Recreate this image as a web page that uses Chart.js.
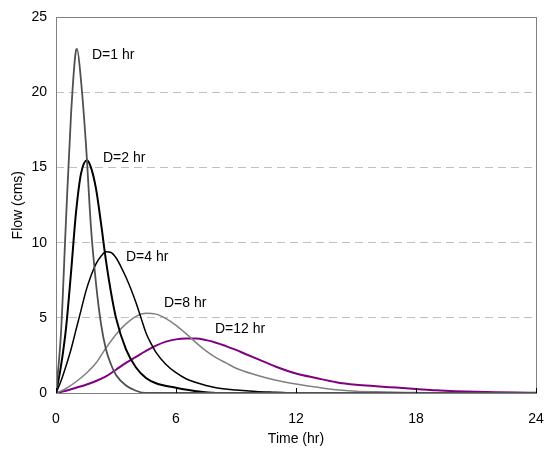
<!DOCTYPE html>
<html>
<head>
<meta charset="utf-8">
<script src="https://cdn.jsdelivr.net/npm/chart.js@4.4.0/dist/chart.umd.min.js"></script>
<style>
  html, body { margin: 0; padding: 0; background: #fff; }
  #wrap { width: 544px; height: 457px; }
</style>
</head>
<body>
<div id="wrap"><canvas id="myChart" width="544" height="457"></canvas></div>
<script>
// unit hydrographs for different storm durations
const seriesNames = ["D=1 hr", "D=2 hr", "D=4 hr", "D=8 hr", "D=12 hr"];

const time1 = [0, 0.25, 0.5, 0.75, 1.0, 1.05, 1.25, 1.5, 1.75, 2.0, 2.25, 2.5, 2.75, 3.0, 3.5, 4.0, 4.5, 24];
const flow1 = [0, 4, 11.5, 18.5, 22.8, 22.9, 20.8, 16.5, 11, 7.3, 4.6, 2.9, 1.9, 1.2, 0.5, 0.15, 0, 0];

const time2 = [0, 0.25, 0.5, 0.75, 1.0, 1.25, 1.55, 1.75, 2.0, 2.25, 2.5, 2.75, 3.0, 3.5, 4.0, 4.5, 5.0, 6.0, 7.0, 8.0, 24];
const flow2 = [0, 1.8, 4.3, 8.0, 12.0, 14.6, 15.5, 15.0, 13.6, 11.3, 8.8, 6.7, 5.0, 2.9, 1.7, 1.0, 0.65, 0.35, 0.12, 0, 0];

const time4 = [0, 0.25, 0.5, 0.75, 1.0, 1.25, 1.5, 1.75, 2.0, 2.25, 2.5, 2.75, 3.0, 3.25, 3.5, 3.75, 4.0, 4.25, 4.5, 4.75, 5.0, 5.5, 6.0, 6.5, 7.0, 7.5, 8.0, 9.0, 10.0, 11.0, 12.0, 24];
const flow4 = [0, 0.8, 1.8, 2.9, 4.2, 5.5, 6.8, 7.8, 8.6, 9.1, 9.4, 9.35, 9.0, 8.4, 7.7, 6.9, 6.0, 5.0, 4.0, 3.3, 2.7, 1.9, 1.35, 0.95, 0.7, 0.5, 0.35, 0.2, 0.1, 0.05, 0, 0];

const time8 = [0, 0.5, 1, 1.5, 2, 2.5, 3, 3.5, 4, 4.5, 5, 5.5, 6, 6.5, 7, 7.5, 8, 8.5, 9, 10, 11, 12, 13, 14, 15, 16, 17, 18, 19, 24];
const flow8 = [0, 0.3, 0.75, 1.3, 2.0, 3.0, 3.9, 4.6, 5.1, 5.3, 5.25, 4.95, 4.5, 3.95, 3.35, 2.8, 2.35, 2.0, 1.65, 1.2, 0.85, 0.6, 0.4, 0.22, 0.12, 0.08, 0.05, 0.03, 0, 0];

const time12 = [0, 0.5, 1, 1.5, 2, 2.5, 3, 3.5, 4, 4.5, 5, 5.5, 6, 6.5, 7, 7.5, 8, 8.5, 9, 9.5, 10, 11, 12, 13, 14, 15, 16, 17, 18, 19, 20, 21, 22, 23, 24];
const flow12 = [0, 0.15, 0.35, 0.55, 0.8, 1.1, 1.55, 2.0, 2.4, 2.8, 3.15, 3.42, 3.57, 3.62, 3.62, 3.52, 3.35, 3.12, 2.87, 2.58, 2.3, 1.75, 1.3, 1.0, 0.72, 0.55, 0.45, 0.36, 0.27, 0.18, 0.12, 0.08, 0.05, 0.03, 0.02];

// where each curve label sits (time, flow)
const labelTime = [1.8, 2.35, 3.5, 5.4, 7.95];
const labelFlow = [22.5, 15.6, 9.05, 6.0, 4.25];

const xTicks = [0, 6, 12, 18, 24];

const times = [time1, time2, time4, time8, time12];
const flows = [flow1, flow2, flow4, flow8, flow12];
const colors = ["#505050", "#000000", "#000000", "#808080", "#800080"];
const widths = [1.8, 2, 1.5, 1.5, 2];

function pts(t, q) {
  return t.map((v, i) => ({ x: v, y: q[i] }));
}

const FONT = "'Liberation Sans', Arial, sans-serif";

const curveLabels = {
  id: "curveLabels",
  afterDatasetsDraw(chart) {
    const ctx = chart.ctx;
    const xs = chart.scales.x, ys = chart.scales.y;
    ctx.save();
    ctx.font = "14px " + FONT;
    ctx.fillStyle = "#000";
    ctx.textBaseline = "middle";
    ctx.textAlign = "left";
    for (let i = 0; i < seriesNames.length; i++) {
      ctx.fillText(seriesNames[i], xs.getPixelForValue(labelTime[i]), ys.getPixelForValue(labelFlow[i]));
    }
    ctx.restore();
  }
};

const frame = {
  id: "frame",
  afterDraw(chart) {
    const ctx = chart.ctx;
    const a = chart.chartArea;
    const xs = chart.scales.x;
    ctx.save();
    ctx.strokeStyle = "#808080";
    ctx.lineWidth = 1;
    ctx.strokeRect(Math.round(a.left) + 0.5, Math.round(a.top) + 0.5, Math.round(a.right - a.left), Math.round(a.bottom - a.top));
    // x ticks point into the plot
    ctx.strokeStyle = "#000";
    xTicks.forEach(v => {
      const px = Math.round(xs.getPixelForValue(v)) + 0.5;
      ctx.beginPath();
      ctx.moveTo(px, a.bottom);
      ctx.lineTo(px, a.bottom - 5);
      ctx.stroke();
    });
    ctx.restore();
  }
};

const ctx = document.getElementById("myChart");
new Chart(ctx, {
  type: "line",
  data: {
    datasets: seriesNames.map((name, i) => ({
      label: name,
      data: pts(times[i], flows[i]),
      borderColor: colors[i],
      borderWidth: widths[i],
      pointRadius: 0,
      fill: false,
      cubicInterpolationMode: "monotone"
    }))
  },
  options: {
    responsive: false,
    animation: false,
    layout: { padding: { left: 0, right: 0, top: 17, bottom: 0 } },
    plugins: { legend: { display: false }, tooltip: { enabled: false } },
    scales: {
      x: {
        type: "linear",
        min: 0,
        max: 24,
        afterBuildTicks(scale) { scale.ticks = xTicks.map(v => ({ value: v })); },
        afterFit(scale) {
          scale.height = 64;
          scale.paddingLeft = 0;
          scale.paddingRight = 8;
        },
        grid: { display: false, drawTicks: false },
        border: { display: false },
        ticks: { color: "#000", font: { family: FONT, size: 14 }, padding: 18, maxRotation: 0 },
        title: { display: true, text: "Time (hr)", color: "#000", font: { family: FONT, size: 14 }, padding: { top: 0, bottom: 9 } }
      },
      y: {
        min: 0,
        max: 25,
        afterFit(scale) { scale.width = 56; },
        grid: {
          drawTicks: false,
          color: c => (c.tick && (c.tick.value === 0 || c.tick.value === 25)) ? "rgba(0,0,0,0)" : "#c0c0c0"
        },
        border: { display: false, dash: [8, 5] },
        ticks: { stepSize: 5, color: "#000", font: { family: FONT, size: 14 }, padding: 9 },
        title: { display: true, text: "Flow (cms)", color: "#000", font: { family: FONT, size: 14 }, padding: { top: 10, bottom: 0 } }
      }
    }
  },
  plugins: [curveLabels, frame]
});
</script>
</body>
</html>
